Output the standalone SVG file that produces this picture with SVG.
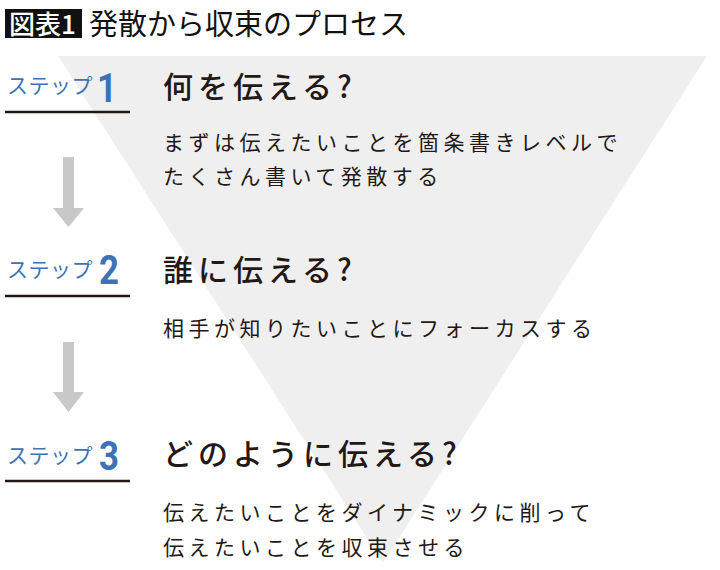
<svg xmlns="http://www.w3.org/2000/svg" width="720" height="570" viewBox="0 0 720 570">
<defs>
<style>
.jp{font-family:"Noto Sans CJK JP","Noto Sans",sans-serif;}
.lbl{font-size:21px;fill:#3d73b4;letter-spacing:0.5px;}
.num{font-family:Roboto,"Liberation Sans",sans-serif;font-weight:700;font-size:41px;fill:#3d73b4;}
.head{font-size:30px;fill:#231815;letter-spacing:5px;font-weight:500;}
.body{font-size:21px;fill:#231815;letter-spacing:4.5px;}
.rule{stroke:#231815;stroke-width:2.5;}
.arrow{fill:#c8c8c8;}
</style>
</defs>
<rect width="720" height="570" fill="#ffffff"/>
<polygon points="58,56 707,56 383,563" fill="#efefef"/>
<g id="title">
<rect x="5" y="9" width="77" height="29" fill="#111111"/>
<text class="jp" x="9" y="34" font-size="26" font-weight="500" fill="#ffffff">図表1</text>
<text class="jp" x="89" y="35" font-size="29" font-weight="400" fill="#111111">発散から収束のプロセス</text>
</g>
<g id="step1">
<text class="jp lbl" x="7" y="93">ステップ</text>
<text class="num" x="0" y="0" transform="translate(97,102) scale(0.85,1)">1</text>
<line class="rule" x1="5" y1="112" x2="130" y2="112"/>
<text class="jp head" x="163" y="98">何を伝える?</text>
<text class="jp body" x="163" y="150">まずは伝えたいことを箇条書きレベルで</text>
<text class="jp body" x="163" y="184">たくさん書いて発散する</text>
</g>
<g id="step2">
<text class="jp lbl" x="7" y="277">ステップ</text>
<text class="num" x="0" y="0" transform="translate(99,284) scale(0.85,1)">2</text>
<line class="rule" x1="5" y1="296" x2="130" y2="296"/>
<text class="jp head" x="163" y="281">誰に伝える?</text>
<text class="jp body" x="163" y="336">相手が知りたいことにフォーカスする</text>
</g>
<g id="step3">
<text class="jp lbl" x="7" y="463">ステップ</text>
<text class="num" x="0" y="0" transform="translate(99,470) scale(0.85,1)">3</text>
<line class="rule" x1="5" y1="481" x2="130" y2="481"/>
<text class="jp head" x="163" y="465">どのように伝える?</text>
<text class="jp body" x="163" y="520">伝えたいことをダイナミックに削って</text>
<text class="jp body" x="163" y="555">伝えたいことを収束させる</text>
</g>
<g id="connectors">
<polygon class="arrow" points="63,157 74,157 74,208 84,208 68.5,227 53,208 63,208"/>
<polygon class="arrow" points="63,342 74,342 74,392 84,392 68.5,412 53,392 63,392"/>
</g>
</svg>
